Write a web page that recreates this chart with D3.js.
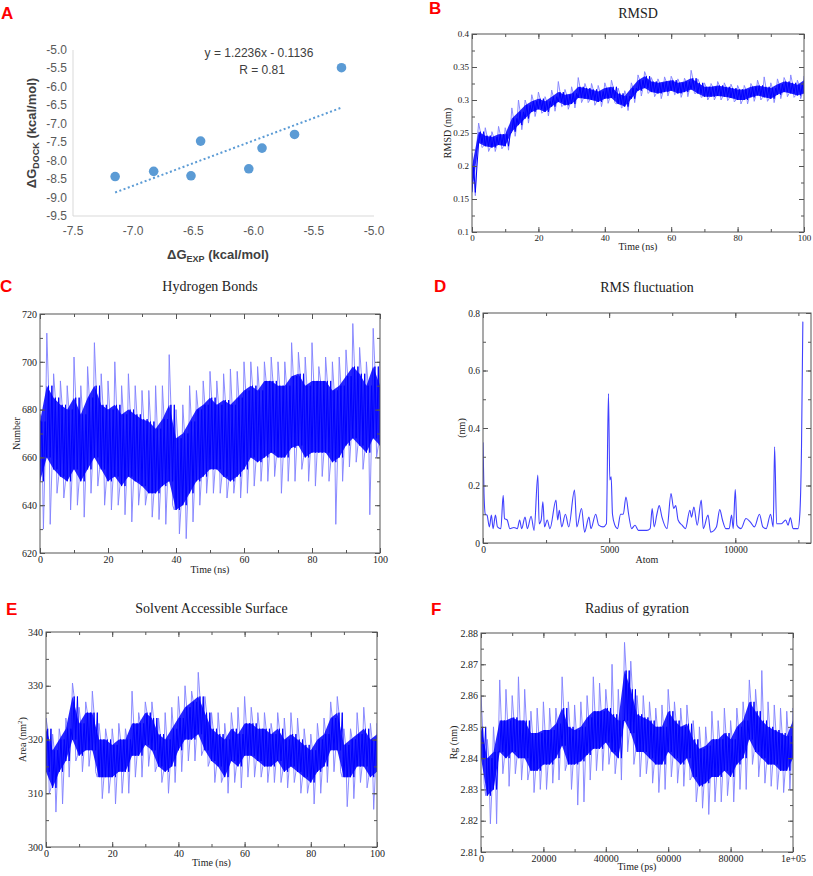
<!DOCTYPE html>
<html>
<head>
<meta charset="utf-8">
<script src="https://cdn.jsdelivr.net/npm/d3@7"></script>
<style>
  body { margin: 0; background: #fff; }
  text { font-family: "Liberation Serif", serif; fill: #222; }
</style>
</head>
<body>
<script>
// ---- A: docking vs experiment ----
var expDG  = [-7.15, -6.83, -6.52, -6.44, -6.04, -5.93, -5.66, -5.27];
var dockDG = [-8.43, -8.29, -8.41, -7.47, -8.22, -7.66, -7.29, -5.48];
var fitSlope = 1.2236, fitIntercept = -0.1136;
var aXTicks = [-7.5, -7.0, -6.5, -6.0, -5.5, -5.0];
var aYTicks = [-9.5, -9.0, -8.5, -8.0, -7.5, -7.0, -6.5, -6.0, -5.5, -5.0];

// ---- B: RMSD (nm), sampled every 2 ns ----
var rmsdTime = d3.range(0, 101, 2);
var rmsdCoreLo = [0.160,0.235,0.230,0.228,0.232,0.230,0.252,0.262,0.272,0.282,0.286,0.282,0.290,0.297,0.292,0.294,0.303,0.302,0.300,0.297,0.302,0.303,0.294,0.290,0.302,0.314,0.318,0.312,0.310,0.312,0.314,0.310,0.312,0.316,0.310,0.305,0.305,0.306,0.305,0.303,0.300,0.300,0.304,0.307,0.304,0.302,0.308,0.312,0.310,0.307,0.310];
var rmsdCoreHi = [0.200,0.252,0.246,0.244,0.248,0.248,0.272,0.282,0.292,0.298,0.302,0.298,0.305,0.312,0.308,0.310,0.320,0.318,0.316,0.313,0.318,0.320,0.310,0.306,0.318,0.330,0.336,0.328,0.326,0.328,0.330,0.326,0.328,0.333,0.326,0.320,0.320,0.322,0.320,0.318,0.316,0.316,0.320,0.322,0.320,0.318,0.324,0.328,0.326,0.323,0.330];
var rmsdOutLo = [0.155,0.228,0.222,0.222,0.226,0.224,0.245,0.255,0.265,0.275,0.280,0.276,0.283,0.290,0.286,0.288,0.296,0.296,0.292,0.290,0.295,0.296,0.288,0.284,0.296,0.306,0.310,0.305,0.302,0.306,0.308,0.304,0.305,0.310,0.304,0.300,0.300,0.300,0.299,0.297,0.294,0.294,0.298,0.300,0.298,0.296,0.302,0.305,0.304,0.302,0.305];
var rmsdOutHi = [0.220,0.265,0.258,0.252,0.260,0.258,0.288,0.300,0.300,0.308,0.312,0.305,0.315,0.328,0.316,0.320,0.334,0.325,0.325,0.322,0.326,0.330,0.318,0.314,0.326,0.338,0.343,0.334,0.332,0.335,0.336,0.332,0.333,0.345,0.332,0.326,0.325,0.328,0.326,0.324,0.322,0.322,0.325,0.330,0.335,0.326,0.332,0.334,0.338,0.330,0.336];

// ---- C: hydrogen bonds, sampled every 2 ns ----
var hbTime = d3.range(0, 101, 2);
var hbCoreLo = [650,660,655,652,650,655,650,655,660,655,650,652,648,652,650,648,645,645,648,650,638,640,645,650,652,655,655,652,650,652,655,660,658,660,662,660,660,664,665,660,662,662,662,658,660,665,668,665,662,668,665];
var hbCoreHi = [675,690,685,682,680,685,678,685,690,682,680,682,678,680,678,676,675,672,676,682,668,670,675,680,682,685,682,684,682,685,688,690,688,692,692,690,690,694,695,690,692,692,692,688,690,694,698,695,690,698,690];
var hbOutLo = [630,632,645,643,638,640,635,645,648,640,638,640,636,633,640,640,635,634,632,640,628,626,633,640,645,645,645,643,645,643,645,648,650,650,652,645,650,650,655,650,648,652,650,632,650,656,658,655,636,660,655];
var hbOutHi = [678,712,695,692,690,702,690,698,708,695,692,700,690,695,690,688,688,690,690,703,680,682,690,688,692,696,692,695,697,696,700,700,698,700,702,700,700,708,704,702,708,698,702,700,702,705,716,706,700,714,700];

// ---- D: RMS fluctuation per atom (nm) ----
var rmsfAtom = [0,40,93,160,253,333,400,493,573,707,800,853,960,1066,1226,1360,1453,1533,1666,1760,1906,2026,2173,2226,2306,2373,2439,2546,2653,2893,2959,3026,3119,3266,3399,3626,3719,3906,4026,4199,4279,4466,4586,4759,4892,4972,5026,5079,5132,5226,5332,5452,5559,5666,5772,5892,6025,6158,6492,6625,6705,6785,6892,6985,7092,7292,7452,7558,7638,7732,7891,8025,8198,8265,8358,8491,8651,8731,8918,9024,9251,9384,9491,9624,9758,9851,9918,9998,10064,10224,10424,10597,10757,10957,11091,11224,11397,11504,11557,11637,11824,11997,12090,12184,12290,12490,12557,12624,12677];
var rmsfVal = [0.35,0.17,0.10,0.097,0.056,0.097,0.05,0.097,0.056,0.05,0.166,0.085,0.08,0.05,0.054,0.05,0.08,0.05,0.09,0.05,0.093,0.044,0.236,0.067,0.08,0.143,0.056,0.08,0.05,0.149,0.08,0.114,0.056,0.10,0.056,0.184,0.056,0.12,0.038,0.09,0.05,0.10,0.062,0.056,0.067,0.52,0.219,0.23,0.10,0.062,0.05,0.10,0.10,0.16,0.10,0.05,0.062,0.044,0.044,0.05,0.12,0.056,0.10,0.13,0.09,0.05,0.172,0.12,0.13,0.08,0.062,0.05,0.114,0.09,0.125,0.062,0.149,0.05,0.097,0.038,0.056,0.116,0.08,0.05,0.05,0.097,0.05,0.186,0.062,0.05,0.085,0.073,0.056,0.10,0.056,0.05,0.10,0.056,0.335,0.067,0.067,0.08,0.062,0.088,0.05,0.05,0.10,0.335,0.77];

// ---- E: solvent accessible surface (nm^2), sampled every 2 ns ----
var sasTime = d3.range(0, 101, 2);
var sasCoreLo = [314,311,314,316,320,317,318,318,313,313,313,314,314,317,317,319,318,315,314,315,318,320,320,321,318,316,315,313,316,315,317,317,316,315,315,316,314,315,314,313,312,314,315,318,318,313,313,315,315,313,314];
var sasCoreHi = [322,318,320,322,328,323,325,325,320,320,319,320,320,323,323,325,324,321,320,322,324,326,327,328,325,322,321,320,322,321,323,323,322,322,321,322,320,321,320,319,318,320,321,324,325,319,320,321,322,320,321];
var sasOutLo = [310,306.5,308,313,316,314,315,314,309,310,308,310,310,313,313,315,314,312,310,312,314,316,316,317,315,312,312,310,312,311,313,313,313,312,312,312,311,312,310,310,308,310,312,314,314,307.5,309,312,311,307,312];
var sasOutHi = [324,321,322,324,330.5,326,327,329,323,322,322,323,322,329,325,327,327,324,325,326,328,330,329,332.5,328,325,325,323,325,326,328,326,325,325,323,325,324,325,324,322,321,323,324,327,328,322,322,325,326,323,323];

// ---- F: radius of gyration (nm), sampled every 2000 ps ----
var rgTime = d3.range(0, 100001, 2000);
var rgCoreLo = [2.840,2.828,2.830,2.842,2.840,2.842,2.840,2.840,2.836,2.836,2.838,2.838,2.840,2.844,2.838,2.838,2.839,2.841,2.843,2.843,2.845,2.842,2.840,2.852,2.848,2.842,2.842,2.840,2.838,2.838,2.842,2.840,2.838,2.840,2.834,2.831,2.832,2.834,2.834,2.836,2.834,2.838,2.840,2.846,2.842,2.840,2.838,2.838,2.836,2.836,2.840];
var rgCoreHi = [2.850,2.840,2.842,2.852,2.852,2.853,2.852,2.852,2.848,2.848,2.849,2.849,2.851,2.856,2.850,2.849,2.850,2.853,2.855,2.855,2.856,2.854,2.852,2.868,2.862,2.854,2.853,2.852,2.850,2.850,2.855,2.852,2.850,2.851,2.846,2.843,2.844,2.846,2.846,2.848,2.846,2.850,2.852,2.858,2.855,2.852,2.850,2.849,2.848,2.847,2.852];
var rgOutLo = [2.832,2.819,2.819,2.835,2.831,2.835,2.833,2.833,2.829,2.830,2.830,2.832,2.833,2.836,2.830,2.825,2.826,2.833,2.836,2.836,2.838,2.835,2.833,2.842,2.838,2.834,2.835,2.832,2.829,2.830,2.834,2.832,2.831,2.833,2.826,2.824,2.822,2.826,2.826,2.828,2.826,2.830,2.830,2.838,2.834,2.832,2.831,2.830,2.829,2.830,2.835];
var rgOutHi = [2.860,2.846,2.850,2.865,2.862,2.860,2.866,2.862,2.855,2.856,2.858,2.856,2.856,2.866,2.858,2.857,2.858,2.860,2.866,2.864,2.862,2.870,2.862,2.877,2.871,2.860,2.860,2.858,2.856,2.857,2.862,2.858,2.856,2.857,2.852,2.850,2.850,2.855,2.852,2.856,2.852,2.856,2.858,2.865,2.862,2.868,2.858,2.857,2.856,2.855,2.856];

var svg = d3.select("body").append("svg").attr("width", 813).attr("height", 876);

function steps(a, b, s) {
  var out = [];
  for (var i = 0; a + i * s <= b + s * 1e-6; i++) out.push(+(a + i * s).toFixed(6));
  return out;
}

function panelLabel(txt, x, y) {
  svg.append("text").attr("x", x).attr("y", y).text(txt)
    .style("font-family", "Liberation Sans, sans-serif").style("font-weight", "bold")
    .style("font-size", "17px").style("fill", "#ff0000");
}

// xmgrace style box with inward ticks on all four sides
function mdFrame(p) {
  var x = d3.scaleLinear().domain(p.xd).range([p.l, p.r]);
  var y = d3.scaleLinear().domain(p.yd).range([p.b, p.t]);
  var g = svg.append("g");
  var fs = p.fs || 10;
  var xFmt = p.xFmt || function(d) { return d; };
  var yFmt = p.yFmt || function(d) { return d; };

  var sides = [
    {ax: d3.axisBottom(x), tr: "translate(0," + p.b + ")", maj: p.xMaj, min: p.xMin, lab: xFmt},
    {ax: d3.axisTop(x), tr: "translate(0," + p.t + ")", maj: p.xMaj, min: p.xMin, lab: null},
    {ax: d3.axisLeft(y), tr: "translate(" + p.l + ",0)", maj: p.yMaj, min: p.yMin, lab: yFmt},
    {ax: d3.axisRight(y), tr: "translate(" + p.r + ",0)", maj: p.yMaj, min: p.yMin, lab: null}
  ];
  sides.forEach(function(s) {
    var mn = g.append("g").attr("transform", s.tr)
      .call(s.ax.tickValues(s.min).tickSize(-3).tickFormat(""));
    mn.select(".domain").remove();
    mn.selectAll("line").attr("stroke", "#555");
    var mj = g.append("g").attr("transform", s.tr)
      .call(s.ax.tickValues(s.maj).tickSize(-5).tickPadding(3).tickFormat(s.lab ? s.lab : ""));
    mj.select(".domain").remove();
    mj.selectAll("line").attr("stroke", "#555");
    mj.selectAll("text").style("font-family", "Liberation Serif, serif")
      .style("font-size", fs + "px").attr("fill", "#222");
  });

  g.append("rect").attr("x", p.l).attr("y", p.t).attr("width", p.r - p.l).attr("height", p.b - p.t)
    .attr("fill", "none").attr("stroke", "#555").attr("stroke-width", 1);

  svg.append("text").attr("x", (p.l + p.r) / 2).attr("y", p.titleY).attr("text-anchor", "middle")
    .style("font-size", "14px").text(p.title);
  svg.append("text").attr("x", (p.l + p.r) / 2).attr("y", p.xLabY).attr("text-anchor", "middle")
    .style("font-size", "10px").text(p.xLab);
  var yl = svg.append("text").attr("transform", "translate(" + p.yLabX + "," + (p.t + p.b) / 2 + ") rotate(-90)")
    .attr("text-anchor", "middle").style("font-size", "10px").text(p.yLab);
  if (p.ySup) yl.append("tspan").attr("dy", -4).style("font-size", "7px").text(p.ySup)
    .clone(true).attr("dy", 4).style("font-size", "10px").text(")");

  var clipId = "clip" + Math.round(p.l) + "_" + Math.round(p.t);
  svg.append("clipPath").attr("id", clipId).append("rect")
    .attr("x", p.l).attr("y", p.t).attr("width", p.r - p.l).attr("height", p.b - p.t);
  var plot = svg.insert("g", ":first-child").attr("clip-path", "url(#" + clipId + ")");
  return {x: x, y: y, g: plot};
}

// noisy MD trace: light vertical spikes out to the outer envelope, dense core between the inner one
function noisy(f, t, half, cLo, cHi, oLo, oHi) {
  var line = d3.line().x(function(d) { return f.x(d[0]); }).y(function(d) { return f.y(d[1]); });
  var q = half / 2;
  var spikes = [], core = [];
  t.forEach(function(v, i) {
    spikes.push([v - q, cLo[i]]); spikes.push([v, oHi[i]]); spikes.push([v + q, cHi[i]]);
    spikes.push([v + half, oLo[i]]);
    core.push([v, cLo[i]]); core.push([v + q, cHi[i]]); core.push([v + half, cLo[i]]); core.push([v + half + q, cHi[i]]);
  });
  f.g.append("path").attr("d", line(spikes)).attr("fill", "none")
    .attr("stroke", "#8080ff").attr("stroke-width", 0.9);
  var area = d3.area().x(function(d, i) { return f.x(t[i]); })
    .y0(function(d, i) { return f.y(cLo[i]); }).y1(function(d, i) { return f.y(cHi[i]); });
  f.g.append("path").attr("d", area(t)).attr("fill", "#0000ff").attr("opacity", 0.85);
  f.g.append("path").attr("d", line(core)).attr("fill", "none")
    .attr("stroke", "#0000ff").attr("stroke-width", 1);
}

// ---------- Panel A ----------
(function() {
  var x = d3.scaleLinear().domain([-7.5, -5.0]).range([73, 374]);
  var y = d3.scaleLinear().domain([-9.5, -5.0]).range([216, 50]);
  var g = svg.append("g");
  g.append("line").attr("x1", x(-7.5)).attr("x2", x(-7.5)).attr("y1", y(-5.0)).attr("y2", y(-9.5)).attr("stroke", "#d9d9d9");
  g.append("line").attr("x1", x(-7.5)).attr("x2", x(-5.0)).attr("y1", y(-9.5)).attr("y2", y(-9.5)).attr("stroke", "#d9d9d9");
  var sans = "Liberation Sans, sans-serif";
  g.selectAll(".yt").data(aYTicks).enter().append("text")
    .attr("x", 67).attr("y", function(d) { return y(d) + 4; }).attr("text-anchor", "end")
    .style("font-family", sans).style("font-size", "12px").style("fill", "#595959")
    .text(function(d) { return d.toFixed(1); });
  g.selectAll(".xt").data(aXTicks).enter().append("text")
    .attr("x", function(d) { return x(d); }).attr("y", 235).attr("text-anchor", "middle")
    .style("font-family", sans).style("font-size", "12px").style("fill", "#595959")
    .text(function(d) { return d.toFixed(1); });

  var x0 = d3.min(expDG), x1 = d3.max(expDG);
  g.append("line").attr("x1", x(x0)).attr("y1", y(fitSlope * x0 + fitIntercept))
    .attr("x2", x(x1)).attr("y2", y(fitSlope * x1 + fitIntercept))
    .attr("stroke", "#5b9bd5").attr("stroke-width", 2).attr("stroke-dasharray", "2,2.5");
  g.selectAll("circle").data(expDG).enter().append("circle")
    .attr("cx", function(d) { return x(d); }).attr("cy", function(d, i) { return y(dockDG[i]); })
    .attr("r", 4.8).attr("fill", "#5b9bd5");

  g.append("text").attr("x", 259).attr("y", 57).attr("text-anchor", "middle")
    .style("font-family", sans).style("font-size", "12px").style("fill", "#404040")
    .text("y = " + fitSlope + "x - " + Math.abs(fitIntercept));
  g.append("text").attr("x", 262).attr("y", 74).attr("text-anchor", "middle")
    .style("font-family", sans).style("font-size", "12px").style("fill", "#404040")
    .text("R = 0.81");

  var xt = g.append("text").attr("x", 218).attr("y", 259).attr("text-anchor", "middle")
    .style("font-family", sans).style("font-size", "13px").style("font-weight", "bold").style("fill", "#404040");
  xt.append("tspan").text("ΔG");
  xt.append("tspan").attr("dy", 3).style("font-size", "9px").text("EXP");
  xt.append("tspan").attr("dy", -3).text(" (kcal/mol)");
  var yt = g.append("text").attr("transform", "translate(36,133) rotate(-90)").attr("text-anchor", "middle")
    .style("font-family", sans).style("font-size", "13px").style("font-weight", "bold").style("fill", "#404040");
  yt.append("tspan").text("ΔG");
  yt.append("tspan").attr("dy", 3).style("font-size", "9px").text("DOCK");
  yt.append("tspan").attr("dy", -3).text(" (kcal/mol)");
})();

// ---------- Panel B ----------
var fB = mdFrame({l: 472, r: 804, t: 34, b: 232, xd: [0, 100], yd: [0.1, 0.4],
  xMaj: steps(0, 100, 20), xMin: steps(0, 100, 10), yMaj: steps(0.1, 0.4, 0.05), yMin: steps(0.1, 0.4, 0.025),
  fs: 9, title: "RMSD", titleY: 18, xLab: "Time (ns)", xLabY: 250, yLab: "RMSD (nm)", yLabX: 451});
noisy(fB, rmsdTime, 1, rmsdCoreLo, rmsdCoreHi, rmsdOutLo, rmsdOutHi);

// ---------- Panel C ----------
var fC = mdFrame({l: 40, r: 380, t: 314, b: 553, xd: [0, 100], yd: [620, 720],
  xMaj: steps(0, 100, 20), xMin: steps(0, 100, 10), yMaj: steps(620, 720, 20), yMin: steps(620, 720, 10),
  fs: 10, title: "Hydrogen Bonds", titleY: 291, xLab: "Time (ns)", xLabY: 573, yLab: "Number", yLabX: 20});
noisy(fC, hbTime, 1, hbCoreLo, hbCoreHi, hbOutLo, hbOutHi);

// ---------- Panel D ----------
var fD = mdFrame({l: 483, r: 811, t: 313, b: 543, xd: [0, 13000], yd: [0, 0.8],
  xMaj: [0, 5000, 10000], xMin: steps(0, 12500, 2500), yMaj: steps(0, 0.8, 0.2), yMin: steps(0, 0.8, 0.1),
  fs: 9.5, title: "RMS fluctuation", titleY: 292, xLab: "Atom", xLabY: 563, yLab: "(nm)", yLabX: 465});
fD.g.append("path")
  .attr("d", d3.line().curve(d3.curveMonotoneX)
    .x(function(d) { return fD.x(d); }).y(function(d, i) { return fD.y(rmsfVal[i]); })(rmsfAtom))
  .attr("fill", "none").attr("stroke", "#4040ff").attr("stroke-width", 1.1);

// ---------- Panel E ----------
var fE = mdFrame({l: 46, r: 377, t: 632, b: 847, xd: [0, 100], yd: [300, 340],
  xMaj: steps(0, 100, 20), xMin: steps(0, 100, 10), yMaj: steps(300, 340, 10), yMin: steps(300, 340, 5),
  fs: 10, title: "Solvent Accessible Surface", titleY: 613, xLab: "Time (ns)", xLabY: 866,
  yLab: "Area (nm", ySup: "2", yLabX: 26});
noisy(fE, sasTime, 1, sasCoreLo, sasCoreHi, sasOutLo, sasOutHi);

// ---------- Panel F ----------
var fF = mdFrame({l: 481, r: 793, t: 633, b: 852, xd: [0, 100000], yd: [2.81, 2.88],
  xMaj: steps(0, 100000, 20000), xMin: steps(0, 100000, 10000), yMaj: steps(2.81, 2.88, 0.01), yMin: steps(2.81, 2.88, 0.005),
  xFmt: function(d) { return d === 100000 ? "1e+05" : d; },
  fs: 10, title: "Radius of gyration", titleY: 613, xLab: "Time (ps)", xLabY: 870, yLab: "Rg (nm)", yLabX: 457});
noisy(fF, rgTime, 1000, rgCoreLo, rgCoreHi, rgOutLo, rgOutHi);

panelLabel("A", 1, 19);
panelLabel("B", 429, 14);
panelLabel("C", 0, 292);
panelLabel("D", 434, 292);
panelLabel("E", 6, 615);
panelLabel("F", 431, 615);
</script>
</body>
</html>
